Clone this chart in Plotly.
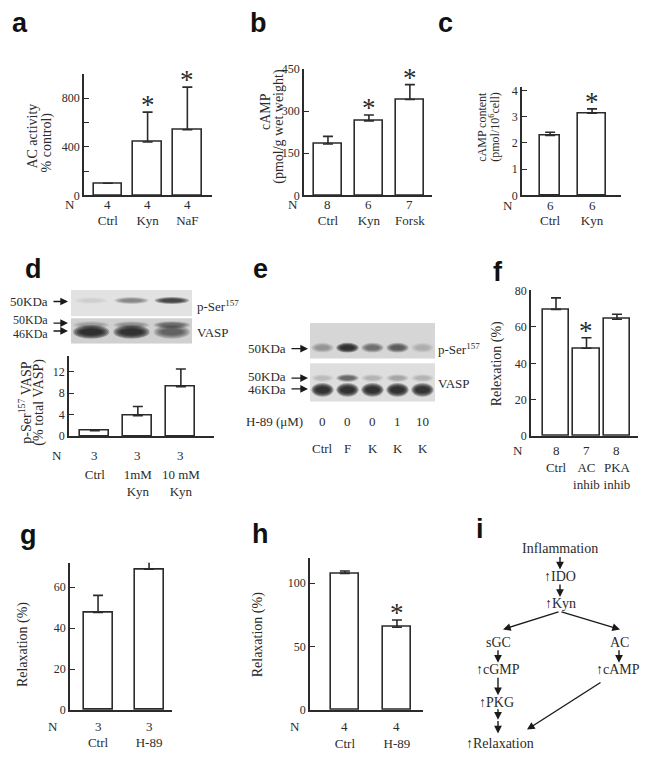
import plotly.graph_objects as go

W, H = 645, 766
SERIF = "Liberation Serif, Times New Roman, serif"
SANS = "Liberation Sans, Arial, sans-serif"
INK = "#2b2b2b"

# ---- data -------------------------------------------------------------
a_cats = ["Ctrl", "Kyn", "NaF"]
a_vals = [100, 440, 540]
a_errs = [0, 245, 350]
a_n = [4, 4, 4]
a_star = [False, True, True]

b_cats = ["Ctrl", "Kyn", "Forsk"]
b_vals = [183, 265, 341]
b_errs = [27, 21, 53]
b_n = [8, 6, 7]
b_star = [False, True, True]

c_cats = ["Ctrl", "Kyn"]
c_vals = [2.29, 3.13]
c_errs = [0.12, 0.17]
c_n = [6, 6]
c_star = [False, True]

d_cats = ["Ctrl", "1mM<br>Kyn", "10 mM<br>Kyn"]
d_vals = [1.0, 3.8, 9.2]
d_errs = [0.0, 1.7, 3.3]
d_n = [3, 3, 3]
d_star = [False, False, False]

f_cats = ["Ctrl", "AC<br>inhib", "PKA<br>inhib"]
f_vals = [69.7, 48.3, 64.3]
f_errs = [6.3, 5.8, 2.7]
f_n = [8, 7, 8]
f_star = [False, True, False]

g_cats = ["Ctrl", "H-89"]
g_vals = [47.7, 68.8]
g_errs = [8.3, 3.8]
g_n = [3, 3]
g_star = [False, False]

h_cats = ["Ctrl", "H-89"]
h_vals = [107.7, 65.2]
h_errs = [1.8, 5.7]
h_n = [4, 4]
h_star = [False, True]

# western blot band intensities (0..1)
d_pser = [0.05, 0.35, 0.8]
d_vasp50 = [0.2, 0.25, 0.45]
d_vasp46 = [1.0, 0.95, 0.5]

e_h89 = ["0", "0", "0", "1", "10"]
e_lanes = ["Ctrl", "F", "K", "K", "K"]
e_pser = [0.25, 1.0, 0.45, 0.55, 0.15]
e_vasp50 = [0.1, 0.5, 0.15, 0.2, 0.15]
e_vasp46 = [1.0, 1.0, 1.0, 1.0, 0.95]

# ---- helpers ----------------------------------------------------------
fig = go.Figure()
axes = {}
annotations = []
shapes = []


def fx(p):
    return p / W


def fy(p):
    return 1 - p / H


def ax_names(k):
    if k == 1:
        return "x", "y", "xaxis", "yaxis"
    return f"x{k}", f"y{k}", f"xaxis{k}", f"yaxis{k}"


def text(t, x, y, size=13, angle=0, xanchor="center", family=SERIF, xref="paper", bold=False):
    annotations.append(dict(
        text=f"<b>{t}</b>" if bold else t, x=x if xref != "paper" else fx(x), y=fy(y),
        xref=xref, yref="paper", showarrow=False, textangle=angle,
        xanchor=xanchor, yanchor="middle",
        font=dict(family=family, size=size, color=INK if not bold else "#111"),
    ))


def arrow(x0, y0, x1, y1, width=1.4):
    # tail (x0, y0) -> head (x1, y1), pixel coordinates (y down)
    annotations.append(dict(
        text="", x=fx(x1), y=fy(y1), xref="paper", yref="paper",
        ax=x0 - x1, ay=y0 - y1,
        showarrow=True, arrowhead=2, arrowsize=1.1, arrowwidth=width, arrowcolor="#1a1a1a",
    ))


def bar_panel(k, cats, vals, errs, ns, stars, box, xr, yr, yticks, yticktext,
              bar_w, n_x, n_dy, lab_dy):
    x0, x1, ytop, ybot = box
    xa, ya, xk, yk = ax_names(k)
    xs = list(range(len(cats)))
    multi = any("<br>" in c for c in cats)
    fig.add_bar(
        x=xs, y=vals, xaxis=xa, yaxis=ya, width=bar_w, showlegend=False,
        cliponaxis=False, hoverinfo="skip",
        marker=dict(color="white", line=dict(color=INK, width=1.6)),
        error_y=dict(type="data", array=errs, arrayminus=[0] * len(errs),
                     symmetric=False, color=INK, thickness=1.6, width=5),
    )
    for x, v, e, s in zip(xs, vals, errs, stars):
        if s:
            annotations.append(dict(
                text="*", x=x, y=v + e, xref=xa, yref=ya, showarrow=False,
                yanchor="bottom", yshift=-10,
                font=dict(family=SERIF, size=27, color=INK),
            ))
    axes[xk] = dict(
        domain=[fx(x0), fx(x1)], range=xr, anchor=ya, showline=True,
        linecolor=INK, linewidth=1.6, tickvals=xs, ticktext=cats, ticks="",
        tickangle=0, showgrid=False, zeroline=False,
        ticklabelstandoff=lab_dy - (12 if multi else 11),
        tickfont=dict(family=SERIF, size=13, color=INK),
    )
    axes[yk] = dict(
        domain=[fy(ybot), fy(ytop)], range=yr, anchor=xa, showline=True,
        linecolor=INK, linewidth=1.6, tickvals=yticks, ticktext=yticktext,
        ticks="inside", ticklen=5, tickwidth=1.4, tickcolor=INK,
        showgrid=False, zeroline=False,
        tickfont=dict(family=SERIF, size=12, color=INK),
    )
    text("N", n_x, ybot + n_dy)
    for x, n in zip(xs, ns):
        text(str(n), x, ybot + n_dy, xref=xa)


def band(xa, ya, lane, yc, inten, w=0.85, h=8.0):
    for scale in [1.0, 0.86, 0.72, 0.58, 0.44]:
        shapes.append(dict(
            type="circle", xref=xa, yref=ya, layer="above",
            x0=lane - w * (0.3 + 0.7 * scale) / 2, x1=lane + w * (0.3 + 0.7 * scale) / 2,
            y0=yc - h * scale / 2, y1=yc + h * scale / 2,
            fillcolor=f"rgba(15,15,15,{inten * 0.3:.3f})", line_width=0,
        ))


def blot_axes(k, box, nlanes, ymax):
    x0, x1, ytop, ybot = box
    xa, ya, xk, yk = ax_names(k)
    fig.add_scatter(x=list(range(nlanes)), y=[0] * nlanes, xaxis=xa, yaxis=ya,
                    mode="markers", marker=dict(opacity=0), showlegend=False,
                    hoverinfo="skip")
    axes[xk] = dict(domain=[fx(x0), fx(x1)], range=[-0.5, nlanes - 0.5],
                    anchor=ya, visible=False)
    axes[yk] = dict(domain=[fy(ybot), fy(ytop)], range=[ymax, 0],
                    anchor=xa, visible=False)
    return xa, ya


def strip(xa, ya, nlanes, y0, y1, color):
    shapes.append(dict(type="rect", xref=xa, yref=ya, layer="below",
                       x0=-0.5, x1=nlanes - 0.5, y0=y0, y1=y1,
                       fillcolor=color, line_width=0))


# ---- bar panels -------------------------------------------------------
bar_panel(1, a_cats, a_vals, a_errs, a_n, a_star, (84, 212, 68, 192),
          [-0.6, 2.62], [0, 1000], [0, 200, 400, 600, 800],
          ["0", "", "400", "", "800"], 0.72, 70, 9, 23)
bar_panel(2, b_cats, b_vals, b_errs, b_n, b_star, (304, 432, 63, 192),
          [-0.585, 2.54], [0, 450], [0, 150, 300, 450],
          ["0", "150", "300", "450"], 0.68, 293, 9, 23)
bar_panel(3, c_cats, c_vals, c_errs, c_n, c_star, (522, 621, 81, 192),
          [-0.67, 1.69], [0, 4.15], [0, 1, 2, 3, 4],
          ["0", "1", "2", "3", "4"], [0.48, 0.67], 508, 10, 23)
bar_panel(4, d_cats, d_vals, d_errs, d_n, d_star, (69, 214, 355, 437),
          [-0.6, 2.77], [0, 15], [0, 4, 8, 12],
          ["0", "4", "8", "12"], 0.67, 57, 20, 38)
bar_panel(5, f_cats, f_vals, f_errs, f_n, f_star, (531, 638, 288, 437),
          [-0.82, 2.69], [0, 80.5], [0, 20, 40, 60, 80],
          ["0", "20", "40", "60", "80"], 0.88, 518, 15, 31)
bar_panel(6, g_cats, g_vals, g_errs, g_n, g_star, (70, 172, 566, 716),
          [-0.55, 1.45], [0, 72], [0, 20, 40, 60],
          ["0", "20", "40", "60"], 0.57, 53, 17, 31)
bar_panel(7, h_cats, h_vals, h_errs, h_n, h_star, (310, 423, 561, 716),
          [-0.67, 1.5], [0, 120], [0, 50, 100],
          ["0", "50", "100"], 0.54, 295, 17, 32)

# y axis titles
text("AC activity", 33, 132, size=14, angle=-90)
text("% control)", 47, 138, size=14, angle=-90)
text("cAMP", 265, 107, size=14, angle=-90)
text("(pmol/g wet weight)", 279, 122, size=14, angle=-90)
text("cAMP content", 482, 122, size=12, angle=-90)
text("(pmol/10<sup>6</sup>cell)", 495, 122, size=12, angle=-90)
text("p-Ser<sup>157</sup> VASP", 25, 403, size=14, angle=-90)
text("(% total VASP)", 39, 403, size=14, angle=-90)
text("Relexation (%)", 497, 363, size=14, angle=-90)
text("Relaxation (%)", 23, 650, size=14, angle=-90)
text("Relaxation (%)", 258, 640, size=14, angle=-90)

# ---- blot d -----------------------------------------------------------
dx, dy = blot_axes(8, (71, 192, 288, 343), 3, 55)
strip(dx, dy, 3, 0, 27, "#e2e2e2")
strip(dx, dy, 3, 29, 55, "#d0d0d0")
for i in range(3):
    band(dx, dy, i, 11, d_pser[i], h=7)
    band(dx, dy, i, 36, d_vasp50[i], w=0.9, h=8)
    band(dx, dy, i, 43, d_vasp46[i], w=0.9, h=14)
text("50KDa", 50, 300, xanchor="right")
arrow(52, 300, 68, 300)
text("50KDa", 50, 319, size=12, xanchor="right")
text("46KDa", 50, 333, size=12, xanchor="right")
arrow(52, 322, 68, 322)
arrow(52, 330, 68, 330)
text("p-Ser<sup>157</sup>", 195, 305, xanchor="left")
text("VASP", 195, 332, xanchor="left")

# ---- blot e -----------------------------------------------------------
ex, ey = blot_axes(9, (310, 435, 322, 402), 5, 80)
strip(ex, ey, 5, 0, 36, "#d6d6d6")
strip(ex, ey, 5, 41, 80, "#dedede")
for i in range(5):
    band(ex, ey, i, 25, e_pser[i], w=0.9, h=10)
    band(ex, ey, i, 56, e_vasp50[i], w=0.9, h=8)
    band(ex, ey, i, 68, e_vasp46[i], w=0.9, h=14)
    text(e_h89[i], i, 422, xref=ex)
    text(e_lanes[i], i, 450, xref=ex)
text("50KDa", 288, 348, xanchor="right")
arrow(290, 348, 308, 348)
text("50KDa", 288, 376, xanchor="right")
text("46KDa", 288, 390, xanchor="right")
arrow(290, 378, 308, 378)
arrow(290, 389, 308, 389)
text("H-89 (μM)", 305, 422, xanchor="right")
text("p-Ser<sup>157</sup>", 436, 348, xanchor="left")
text("VASP", 436, 383, xanchor="left")

# ---- pathway i --------------------------------------------------------
text("Inflammation", 560, 552, size=14)
text("↑IDO", 560, 580, size=14)
text("↑Kyn", 560, 608, size=14)
text("sGC", 498, 647, size=14)
text("AC", 619, 647, size=14)
text("↑cGMP", 498, 675, size=14)
text("↑cAMP", 618, 675, size=14)
text("↑PKG", 497, 708, size=14)
text("↑Relaxation", 500, 750, size=14)
arrow(560, 559, 560, 573)
arrow(560, 587, 560, 601)
arrow(560, 616, 503, 634)
arrow(560, 616, 620, 634)
arrow(498, 654, 498, 668)
arrow(619, 654, 619, 668)
arrow(498, 682, 498, 701)
arrow(498, 714, 498, 726)
arrow(498, 726, 498, 740)
arrow(602, 688, 527, 736)

# ---- panel letters ----------------------------------------------------
for letter, x, y in [("a", 20, 16), ("b", 258, 16), ("c", 445, 16),
                     ("d", 33, 267), ("e", 260, 267), ("f", 498, 270),
                     ("g", 28, 538), ("h", 260, 537), ("i", 480, 532)]:
    text(letter, x, y, size=27, family=SANS, bold=True)

fig.update_layout(
    width=W, height=H, margin=dict(l=0, r=0, t=0, b=0),
    paper_bgcolor="white", plot_bgcolor="rgba(0,0,0,0)",
    bargap=0, annotations=annotations, shapes=shapes, **axes,
)
# drop the default body margin so the figure fills the window exactly
fig.write_html(
    "out.html",
    config={"displayModeBar": False},
    post_script="document.body.style.margin='0';document.body.style.overflow='hidden';",
)
